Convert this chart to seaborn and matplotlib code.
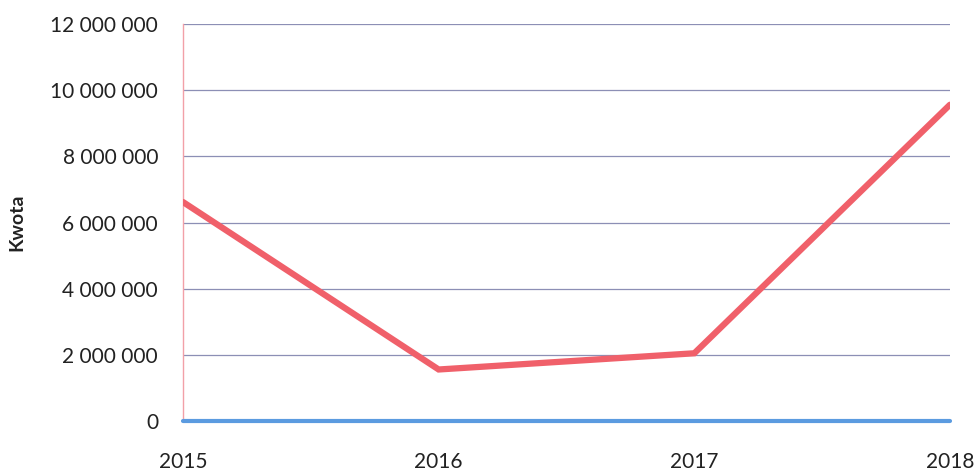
import numpy as np
import pandas as pd
import matplotlib.pyplot as plt
from matplotlib.ticker import FuncFormatter
import seaborn as sns

# dane
years = [2015, 2016, 2017, 2018]
kwota = [6620000, 1560000, 2050000, 9560000]
zero_series = [0, 0, 0, 0]

sns.set_theme(style='white')
plt.rcParams['font.family'] = ['Lato', 'DejaVu Sans']

fig = plt.figure(figsize=(9.75, 4.7), dpi=100)
ax = fig.add_axes([0.1877, 0.104, 0.7866, 0.845])

df = pd.DataFrame({'Rok': years, 'Kwota': kwota, 'Zero': zero_series})

sns.lineplot(data=df, x='Rok', y='Zero', ax=ax, color='#5b9be0', linewidth=3,
             clip_on=False, zorder=3)
sns.lineplot(data=df, x='Rok', y='Kwota', ax=ax, color='#f0606a', linewidth=4.5,
             solid_joinstyle='miter', zorder=4)

ax.set_xlim(2015, 2018)
ax.set_ylim(0, 12000000)
ax.set_yticks(np.arange(0, 12000001, 2000000))
ax.set_xticks(years)
ax.yaxis.set_major_formatter(FuncFormatter(lambda v, p: f'{int(v):,}'.replace(',', ' ')))

ax.grid(axis='y', color='#8c8fb5', linewidth=0.9)
ax.set_axisbelow(True)
for s in ['top', 'right', 'bottom']:
    ax.spines[s].set_visible(False)
ax.spines['left'].set_color('#f2a0a8')
ax.spines['left'].set_linewidth(1)

ax.tick_params(axis='y', labelsize=15, pad=18, length=0, colors='#222222')
ax.tick_params(axis='x', labelsize=15, pad=22, length=0, colors='#222222')
ax.set_xlabel('')
ax.set_ylabel('Kwota', fontsize=14, fontweight='bold', labelpad=18, color='#222222')

fig.savefig('out.png', dpi=100)
